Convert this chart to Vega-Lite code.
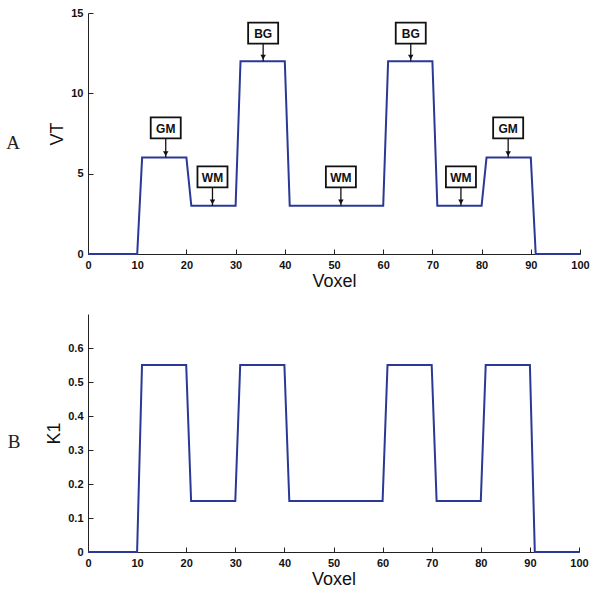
{
  "$schema": "https://vega.github.io/schema/vega-lite/v6.json",
  "background": "white",
  "padding": {"left": 6, "top": 7, "right": 10, "bottom": 0},
  "spacing": 24,
  "config": {
    "view": {"stroke": null},
    "axis": {
      "grid": false,
      "domainColor": "#222222",
      "domainWidth": 1,
      "tickColor": "#222222",
      "tickSize": -5,
      "labelColor": "#111111",
      "labelFont": "Liberation Sans",
      "labelFontSize": 11,
      "labelFontWeight": "bold",
      "labelPadding": 10,
      "labelFlush": false,
      "labelOverlap": false,
      "titleFont": "Liberation Sans",
      "titleFontSize": 18,
      "titleFontWeight": "normal",
      "titleColor": "#111111"
    },
    "title": {"font": "Liberation Serif", "fontSize": 19, "fontWeight": "normal", "color": "#222222"}
  },
  "datasets": {
    "vt": [
      {"voxel": 0, "value": 0}, {"voxel": 10, "value": 0}, {"voxel": 11, "value": 6}, {"voxel": 20, "value": 6},
      {"voxel": 21, "value": 3}, {"voxel": 30, "value": 3}, {"voxel": 31, "value": 12}, {"voxel": 40, "value": 12},
      {"voxel": 41, "value": 3}, {"voxel": 60, "value": 3}, {"voxel": 61, "value": 12}, {"voxel": 70, "value": 12},
      {"voxel": 71, "value": 3}, {"voxel": 80, "value": 3}, {"voxel": 81, "value": 6}, {"voxel": 90, "value": 6},
      {"voxel": 91, "value": 0}, {"voxel": 100, "value": 0}
    ],
    "k1": [
      {"voxel": 0, "value": 0}, {"voxel": 10, "value": 0}, {"voxel": 11, "value": 0.55}, {"voxel": 20, "value": 0.55},
      {"voxel": 21, "value": 0.15}, {"voxel": 30, "value": 0.15}, {"voxel": 31, "value": 0.55}, {"voxel": 40, "value": 0.55},
      {"voxel": 41, "value": 0.15}, {"voxel": 60, "value": 0.15}, {"voxel": 61, "value": 0.55}, {"voxel": 70, "value": 0.55},
      {"voxel": 71, "value": 0.15}, {"voxel": 80, "value": 0.15}, {"voxel": 81, "value": 0.55}, {"voxel": 90, "value": 0.55},
      {"voxel": 91, "value": 0}, {"voxel": 100, "value": 0}
    ],
    "notes": [
      {"label": "GM", "voxel": 15.8, "box": 7.85, "tip": 6},
      {"label": "WM", "voxel": 25.3, "box": 4.8, "tip": 3},
      {"label": "BG", "voxel": 35.6, "box": 13.75, "tip": 12},
      {"label": "WM", "voxel": 51.4, "box": 4.8, "tip": 3},
      {"label": "BG", "voxel": 65.6, "box": 13.75, "tip": 12},
      {"label": "WM", "voxel": 75.8, "box": 4.8, "tip": 3},
      {"label": "GM", "voxel": 85.4, "box": 7.85, "tip": 6}
    ]
  },
  "vconcat": [
    {
      "width": 492,
      "height": 241,
      "title": {"text": "A", "orient": "left", "angle": 0, "anchor": "middle", "offset": 22},
      "layer": [
        {
          "data": {"name": "vt"},
          "mark": {"type": "line", "color": "#2a3896", "strokeWidth": 2},
          "encoding": {
            "x": {"field": "voxel", "type": "quantitative", "scale": {"domain": [0, 100], "nice": false}, "axis": {"values": [0,10,20,30,40,50,60,70,80,90,100], "title": "Voxel", "titlePadding": 2}},
            "y": {"field": "value", "type": "quantitative", "scale": {"domain": [0, 15], "nice": false}, "axis": {"values": [0,5,10,15], "title": "VT", "titlePadding": 4}}
          }
        },
        {
          "data": {"name": "notes"},
          "mark": {"type": "rule", "color": "#111111", "strokeWidth": 1.3},
          "encoding": {
            "x": {"field": "voxel", "type": "quantitative"},
            "y": {"field": "box", "type": "quantitative"},
            "y2": {"field": "tip"}
          }
        },
        {
          "data": {"name": "notes"},
          "mark": {"type": "point", "shape": "triangle-down", "filled": true, "color": "#111111", "size": 30, "opacity": 1, "yOffset": -4},
          "encoding": {
            "x": {"field": "voxel", "type": "quantitative"},
            "y": {"field": "tip", "type": "quantitative"}
          }
        },
        {
          "data": {"name": "notes"},
          "mark": {"type": "point", "shape": "M-1.43,-1L1.43,-1L1.43,1L-1.43,1Z", "size": 441, "filled": true, "fill": "white", "stroke": "#111111", "strokeWidth": 1.8, "opacity": 1},
          "encoding": {
            "x": {"field": "voxel", "type": "quantitative"},
            "y": {"field": "box", "type": "quantitative"}
          }
        },
        {
          "data": {"name": "notes"},
          "mark": {"type": "text", "font": "Liberation Sans", "fontWeight": "bold", "fontSize": 12, "color": "#111111", "baseline": "middle", "align": "center", "dy": 1},
          "encoding": {
            "x": {"field": "voxel", "type": "quantitative"},
            "y": {"field": "box", "type": "quantitative"},
            "text": {"field": "label"}
          }
        }
      ]
    },
    {
      "width": 491,
      "height": 238,
      "title": {"text": "B", "orient": "left", "angle": 0, "anchor": "middle", "offset": 19},
      "data": {"name": "k1"},
      "mark": {"type": "line", "color": "#2a3896", "strokeWidth": 2},
      "encoding": {
        "x": {"field": "voxel", "type": "quantitative", "scale": {"domain": [0, 100], "nice": false}, "axis": {"values": [0,10,20,30,40,50,60,70,80,90,100], "title": "Voxel", "titlePadding": 2}},
        "y": {"field": "value", "type": "quantitative", "scale": {"domain": [0, 0.7], "nice": false}, "axis": {"values": [0,0.1,0.2,0.3,0.4,0.5,0.6], "format": "~g", "title": "K1", "titlePadding": 4}}
      }
    }
  ]
}
